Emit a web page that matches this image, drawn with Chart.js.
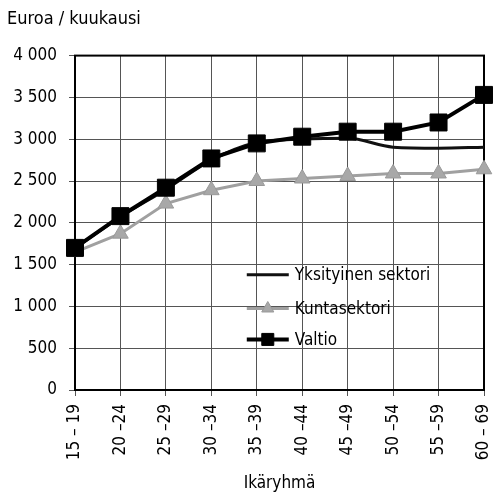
<!DOCTYPE html>
<html><head><meta charset="utf-8">
<script src="https://cdn.jsdelivr.net/npm/chart.js@4/dist/chart.umd.min.js"></script>
<style>html,body{margin:0;padding:0;background:#fff}#wrap{width:497px;height:494px}</style>
</head><body><div id="wrap"><canvas id="c" width="497" height="494"></canvas></div>
<script>
const categories = ["15 – 19","20 –24","25 –29","30 –34","35 –39","40 –44","45 –49","50 –54","55 –59","60 – 69"];
const yksityinen = [1700, 2070, 2400, 2750, 2960, 3000, 3010, 2905, 2893, 2905];
const kunta = [1650, 1870, 2230, 2390, 2500, 2530, 2560, 2590, 2590, 2640];
const valtio = [1700, 2080, 2420, 2770, 2950, 3030, 3090, 3090, 3200, 3530];
const yTicks = [0, 500, 1000, 1500, 2000, 2500, 3000, 3500, 4000];
const seriesNames = ["Yksityinen sektori", "Kuntasektori", "Valtio"];

const FONT = "'Liberation Sans Narrow','DejaVu Sans Condensed','Noto Sans',sans-serif";
const fmt = v => String(v).replace(/\B(?=(\d{3})+(?!\d))/g, ' ');

const frame = {
  id: 'frame',
  beforeDatasetsDraw(chart) {
    const a = chart.chartArea, ctx = chart.ctx;
    ctx.save(); ctx.strokeStyle = '#000'; ctx.lineWidth = 2;
    ctx.strokeRect(a.left, a.top, a.right - a.left, a.bottom - a.top);
    ctx.restore();
  }
};
const legendIn = {
  id: 'legendIn',
  afterDatasetsDraw(chart) {
    const ctx = chart.ctx, a = chart.chartArea, ys = chart.scales.y;
    const x0 = a.left + 0.42 * (a.right - a.left), x1 = x0 + 42;
    const rows = [1380, 975, 605];
    const legendRadius = [0, 7, 8.5];
    ctx.save();
    [0, 1, 2].forEach((di, i) => {
      const ds = chart.data.datasets[di];
      const y = ys.getPixelForValue(rows[i]);
      ctx.strokeStyle = ds.borderColor; ctx.lineWidth = ds.borderWidth;
      ctx.beginPath(); ctx.moveTo(x0, y); ctx.lineTo(x1, y); ctx.stroke();
      if (legendRadius[i] > 0) {
        ctx.fillStyle = ds.pointBackgroundColor; ctx.strokeStyle = ds.pointBorderColor; ctx.lineWidth = 1;
        Chart.helpers.drawPoint(ctx, {pointStyle: ds.pointStyle, radius: legendRadius[i], borderWidth: 1, rotation: 0}, (x0 + x1) / 2, y);
      }
      ctx.fillStyle = '#000'; ctx.font = '17px ' + FONT; ctx.textBaseline = 'middle'; ctx.textAlign = 'left';
      ctx.fillText(ds.label, x1 + 6, y + 1);
    });
    ctx.restore();
  }
};

new Chart(document.getElementById('c'), {
  type: 'line',
  data: {
    labels: categories,
    datasets: [
      {label: seriesNames[0], data: yksityinen, borderColor: '#111', borderWidth: 3, pointRadius: 0, pointHoverRadius: 0,
       cubicInterpolationMode: 'monotone', order: 2},
      {label: seriesNames[1], data: kunta, borderColor: '#a0a0a0', borderWidth: 3, pointStyle: 'triangle', pointRadius: 9,
       pointBackgroundColor: '#a8a8a8', pointBorderColor: '#999', pointBorderWidth: 1, order: 3},
      {label: seriesNames[2], data: valtio, borderColor: '#000', borderWidth: 4, pointStyle: 'rect', pointRadius: 12,
       pointBackgroundColor: '#000', pointBorderColor: '#000', pointBorderWidth: 1, order: 1}
    ]
  },
  options: {
    responsive: false, animation: false, devicePixelRatio: 1,
    layout: {padding: {left: 7, right: 0, top: 0, bottom: 0}},
    plugins: {
      legend: {display: false}, tooltip: {enabled: false},
      title: {display: true, text: 'Euroa / kuukausi', align: 'start', color: '#000',
        font: {family: FONT, size: 18, weight: 'normal'}, padding: {top: 9, bottom: 25}}
    },
    scales: {
      x: {
        offset: false,
        grid: {color: '#555', lineWidth: 1, tickLength: 6, drawTicks: true},
        border: {color: '#000', width: 2},
        ticks: {color: '#000', font: {family: FONT, size: 17}, minRotation: 90, maxRotation: 90, padding: 8, autoSkip: false},
        title: {display: true, text: 'Ikäryhmä', color: '#000', font: {family: FONT, size: 17}, padding: {top: 9, bottom: 0}},
        afterFit(s) { s.height = 104; s.paddingRight = 12; }
      },
      y: {
        min: 0, max: 4000,
        afterBuildTicks(s) { s.ticks = yTicks.map(v => ({value: v})); },
        grid: {color: '#555', lineWidth: 1, tickLength: 6, drawTicks: true},
        border: {color: '#000', width: 2},
        ticks: {color: '#000', font: {family: FONT, size: 17}, padding: 12, callback: v => fmt(v)},
        afterFit(s) { s.width = 68; }
      }
    }
  },
  plugins: [frame, legendIn]
});
</script></body></html>
